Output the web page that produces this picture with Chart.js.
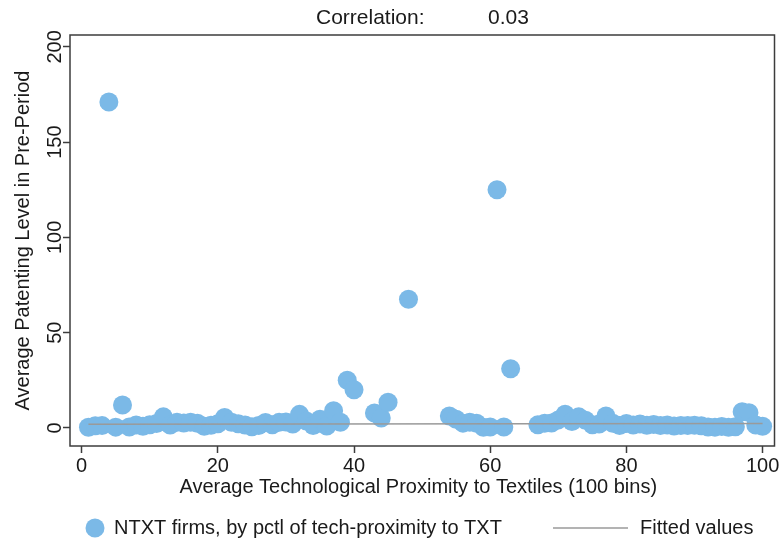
<!DOCTYPE html>
<html>
<head>
<meta charset="utf-8">
<script src="https://cdn.jsdelivr.net/npm/chart.js@4"></script>
<style>
  html, body { margin: 0; padding: 0; background: #ffffff; }
  #wrap { width: 784px; height: 541px; }
</style>
</head>
<body>
<div id="wrap"><canvas id="c" width="784" height="541"></canvas></div>
<script>
// Percentile bins of technological proximity to textiles (empty bins are null)
const bins = [
  1, 2, 3, 4, 5, 6, 7, 8, 9, 10,
  11, 12, 13, 14, 15, 16, 17, 18, 19, 20,
  21, 22, 23, 24, 25, 26, 27, 28, 29, 30,
  31, 32, 33, 34, 35, 36, 37, 38, 39, 40,
  41, 42, 43, 44, 45, 46, 47, 48, 49, 50,
  51, 52, 53, 54, 55, 56, 57, 58, 59, 60,
  61, 62, 63, 64, 65, 66, 67, 68, 69, 70,
  71, 72, 73, 74, 75, 76, 77, 78, 79, 80,
  81, 82, 83, 84, 85, 86, 87, 88, 89, 90,
  91, 92, 93, 94, 95, 96, 97, 98, 99, 100
];

// Average patenting level in the pre-period, NTXT firms
const patenting = [
  0.3, 1.1, 1.2, 171, 0.4, 12, 0.5, 1.5, 0.8, 1.6,
  2.3, 5.8, 1.5, 2.9, 2.6, 3.0, 2.4, 0.8, 1.4, 2.2,
  5.5, 3.0, 2.2, 1.5, 0.6, 1.3, 2.8, 1.6, 2.9, 3.1,
  2.0, 7.1, 3.6, 1.2, 4.5, 1.0, 9.0, 3.0, 25, 20,
  null, null, 7.8, 5.2, 13.5, null, null, 67.5, null, null,
  null, null, null, 6.2, 4.5, 2.5, 3.0, 2.4, 0.3, 0.5,
  125, 0.5, 31, null, null, null, 1.6, 2.5, 2.6, 4.2,
  7.2, 3.4, 5.8, 4.0, 1.6, 2.0, 6.2, 2.4, 1.2, 2.3,
  1.5, 2.0, 1.4, 1.8, 1.2, 1.5, 1.0, 1.3, 1.2, 1.4,
  1.1, 0.5, 0.4, 0.7, 0.3, 0.6, 8.5, 8.0, 1.5, 0.9
];

// Linear fit end points
const fittedX = [1, 100];
const fittedY = [1.9, 2.3];

const xTicks = [0, 20, 40, 60, 80, 100];
const yTicks = [0, 50, 100, 150, 200];

const titleLabel = 'Correlation:';
const titleValue = '0.03';
const xTitle = 'Average Technological Proximity to Textiles (100 bins)';
const yTitle = 'Average Patenting Level in Pre-Period';
const seriesNames = ['NTXT firms, by pctl of tech-proximity to TXT', 'Fitted values'];

const FONT = '"Liberation Sans", Arial, sans-serif';
const TEXT = '#1a1a1a';
const DOT = '#7bb9e7';
const FIT = '#9a9a9a';
const FRAME = '#3c3c3c';

const scatterPoints = bins
  .map((x, i) => ({ x: x, y: patenting[i] }))
  .filter(p => p.y !== null);
const fitPoints = fittedX.map((x, i) => ({ x: x, y: fittedY[i] }));

const decorations = {
  id: 'decorations',
  afterDraw(chart) {
    const ctx = chart.ctx;
    const a = chart.chartArea;
    const ys = chart.scales.y;
    ctx.save();

    // plot region frame
    ctx.strokeStyle = FRAME;
    ctx.lineWidth = 1.5;
    ctx.strokeRect(a.left, a.top, a.right - a.left, a.bottom - a.top);

    ctx.fillStyle = TEXT;

    // heading
    ctx.font = '21px ' + FONT;
    ctx.textBaseline = 'middle';
    ctx.textAlign = 'left';
    ctx.fillText(titleLabel, 316, 18);
    ctx.fillText(titleValue, 488, 18);

    // vertical tick labels on the y axis
    ctx.font = '20px ' + FONT;
    yTicks.forEach(v => {
      const py = ys.getPixelForValue(v);
      ctx.save();
      ctx.translate(61, py);
      ctx.rotate(-Math.PI / 2);
      ctx.textAlign = 'center';
      ctx.textBaseline = 'alphabetic';
      ctx.fillText(String(v), 0, 0);
      ctx.restore();
    });

    // y axis title
    ctx.save();
    ctx.translate(29, (a.top + a.bottom) / 2);
    ctx.rotate(-Math.PI / 2);
    ctx.textAlign = 'center';
    ctx.textBaseline = 'alphabetic';
    ctx.fillText(yTitle, 0, 0);
    ctx.restore();

    // x axis title
    ctx.textAlign = 'center';
    ctx.textBaseline = 'middle';
    ctx.fillText(xTitle, (a.left + a.right) / 2 - 4, 487);

    // legend
    const ly = 528;
    ctx.fillStyle = DOT;
    ctx.beginPath();
    ctx.arc(95, ly, 9.5, 0, Math.PI * 2);
    ctx.fill();
    ctx.fillStyle = TEXT;
    ctx.textAlign = 'left';
    ctx.fillText(seriesNames[0], 114, ly);
    ctx.strokeStyle = FIT;
    ctx.lineWidth = 1.5;
    ctx.beginPath();
    ctx.moveTo(553, ly);
    ctx.lineTo(628, ly);
    ctx.stroke();
    ctx.fillText(seriesNames[1], 640, ly);

    ctx.restore();
  }
};

new Chart(document.getElementById('c'), {
  type: 'scatter',
  data: {
    datasets: [
      {
        type: 'line',
        label: seriesNames[1],
        data: fitPoints,
        borderColor: FIT,
        borderWidth: 1.5,
        pointRadius: 0,
        fill: false,
        order: 0
      },
      {
        type: 'scatter',
        label: seriesNames[0],
        data: scatterPoints,
        backgroundColor: DOT,
        borderWidth: 0,
        pointRadius: 9.5,
        pointHoverRadius: 9.5,
        order: 1
      }
    ]
  },
  options: {
    responsive: false,
    devicePixelRatio: 1,
    animation: false,
    layout: { padding: { left: 0, right: 6, top: 35, bottom: 0 } },
    plugins: {
      legend: { display: false },
      title: { display: false },
      tooltip: { enabled: false }
    },
    scales: {
      x: {
        type: 'linear',
        min: -1.71,
        max: 101.75,
        afterBuildTicks: s => { s.ticks = xTicks.map(v => ({ value: v })); },
        afterFit: s => { s.height = 95; },
        border: { display: false },
        grid: { drawOnChartArea: false, drawTicks: true, tickLength: 7, tickColor: FRAME, tickWidth: 1.5 },
        ticks: { color: TEXT, font: { family: FONT, size: 20 }, padding: 1, maxRotation: 0, minRotation: 0 }
      },
      y: {
        type: 'linear',
        min: -9.5,
        max: 206.2,
        afterBuildTicks: s => { s.ticks = yTicks.map(v => ({ value: v })); },
        afterFit: s => { s.width = 70; },
        border: { display: false },
        grid: { drawOnChartArea: false, drawTicks: true, tickLength: 7, tickColor: FRAME, tickWidth: 1.5 },
        ticks: { color: 'rgba(0,0,0,0)', font: { family: FONT, size: 20 } }
      }
    }
  },
  plugins: [decorations]
});
</script>
</body>
</html>
